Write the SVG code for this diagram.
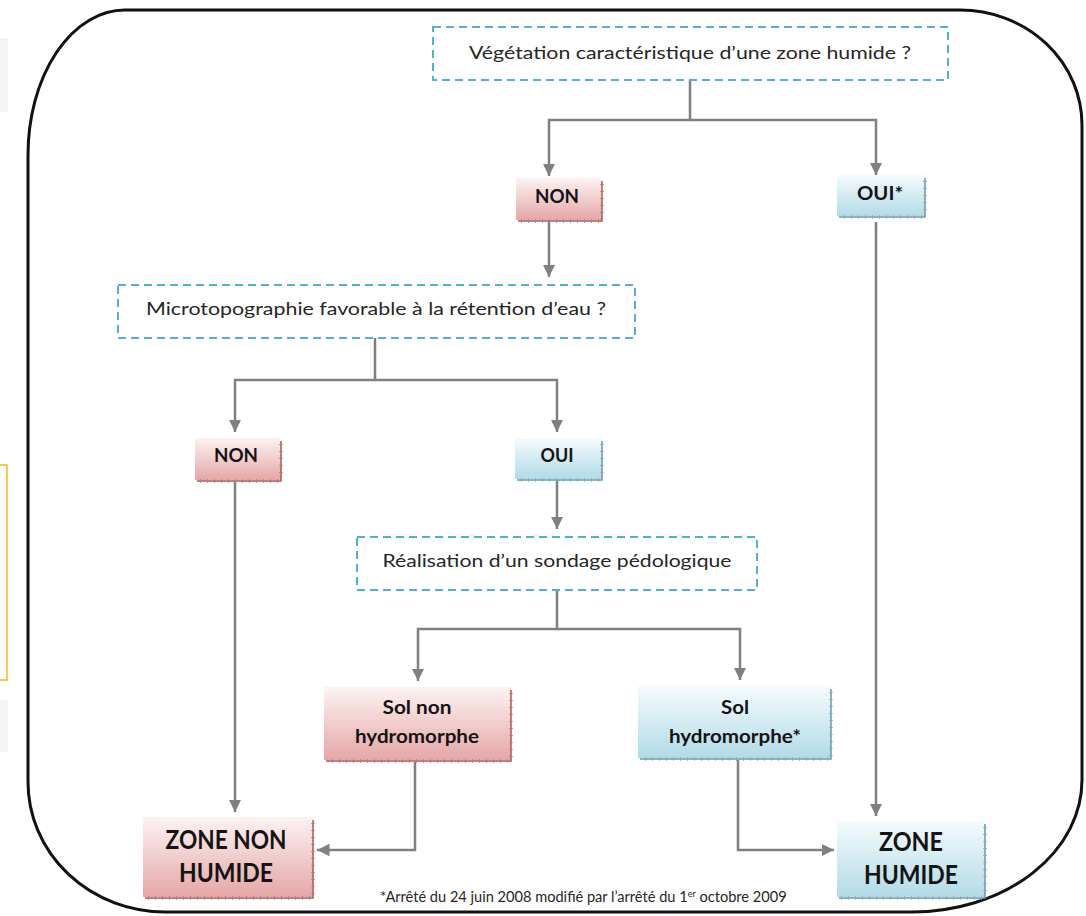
<svg xmlns="http://www.w3.org/2000/svg" width="1086" height="916" viewBox="0 0 1086 916">
<style>
.q{fill:#fff;stroke:#4DB4CE;stroke-width:2;stroke-dasharray:8 5}
.qt{font-family:Lato,"Liberation Sans",sans-serif;font-size:18px;fill:#262626;text-anchor:middle}
.bt{font-family:Lato,"Liberation Sans",sans-serif;font-weight:bold;fill:#141414;text-anchor:middle}
.s17{font-size:18px}
.s19{font-size:19px}
.s26{font-size:26px}
.edR{fill:none;stroke:#A55A5A;stroke-width:1.5}
.tkR{fill:none;stroke:#B87878;stroke-width:3.5;stroke-dasharray:1 6}
.edB{fill:none;stroke:#6E98A8;stroke-width:1.5}
.tkB{fill:none;stroke:#86AAB8;stroke-width:3.5;stroke-dasharray:1 6}
.cn{fill:none;stroke:#808080;stroke-width:2.5}
.ft{font-family:Lato,"Liberation Sans",sans-serif;font-size:14.6px;fill:#262626}
</style>
<defs>
<linearGradient id="gR" x1="0" y1="0" x2="0" y2="1"><stop offset="0" stop-color="#FDF3F3"/><stop offset="1" stop-color="#E5A6A6"/></linearGradient>
<linearGradient id="gB" x1="0" y1="0" x2="0" y2="1"><stop offset="0" stop-color="#F5FBFD"/><stop offset="1" stop-color="#B2DBE7"/></linearGradient>
<marker id="ar" viewBox="0 0 10 10" refX="10" refY="5" markerWidth="5" markerHeight="5" orient="auto" markerUnits="strokeWidth"><path d="M0 0 L10 5 L0 10 Z" fill="#808080"/></marker>
</defs>
<rect width="1086" height="916" fill="#fff"/>
<g id="edge-artifacts">
<rect x="-2" y="38" width="10" height="74" fill="#F4F5F7"/>
<rect x="-5" y="465" width="12" height="215" fill="none" stroke="#F5BB1A" stroke-width="1.5"/>
<rect x="-2" y="700" width="10" height="52" fill="#F4F5F7"/>
</g>
<path id="frame" d="M125 10 H960 A122 115 0 0 1 1082 125 V780 A170 132 0 0 1 912 912 H165 A137 130 0 0 1 28 782 V155 A97 145 0 0 1 125 10 Z" fill="none" stroke="#111" stroke-width="3"/>
<g id="connectors">
<path class="cn" d="M690 80 V120 H549 V176" marker-end="url(#ar)"/>
<path class="cn" d="M690 120 H876 V175" marker-end="url(#ar)"/>
<path class="cn" d="M549 221 V277" marker-end="url(#ar)"/>
<path class="cn" d="M375 338 V380 H235 V432" marker-end="url(#ar)"/>
<path class="cn" d="M375 380 H557 V432" marker-end="url(#ar)"/>
<path class="cn" d="M557 480 V529" marker-end="url(#ar)"/>
<path class="cn" d="M557 590 V629 H418 V681" marker-end="url(#ar)"/>
<path class="cn" d="M557 629 H740 V680" marker-end="url(#ar)"/>
<path class="cn" d="M235 482 V812" marker-end="url(#ar)"/>
<path class="cn" d="M876 222 V816" marker-end="url(#ar)"/>
<path class="cn" d="M415 762 V850 H317" marker-end="url(#ar)"/>
<path class="cn" d="M738 760 V850 H834" marker-end="url(#ar)"/>
</g>
<g id="q1">
<rect class="q" x="433" y="27" width="515" height="53"/>
<text class="qt" x="690" y="59" textLength="442" lengthAdjust="spacingAndGlyphs">Végétation caractéristique d’une zone humide ?</text>
</g>
<g id="non1">
<rect x="516" y="178" width="86" height="42" fill="url(#gR)"/>
<path class="edR" d="M602 181 V221 H518"/><path class="tkR" d="M602 184 V219 M599 221 H520"/>
<text class="bt s17" x="557" y="203" textLength="44" lengthAdjust="spacingAndGlyphs">NON</text>
</g>
<g id="oui1">
<rect x="837" y="175" width="88" height="41" fill="url(#gB)"/>
<path class="edB" d="M925 178 V217 H839"/><path class="tkB" d="M925 181 V215 M922 217 H841"/>
<text class="bt s17" x="880" y="200" textLength="46" lengthAdjust="spacingAndGlyphs">OUI*</text>
</g>
<g id="q2">
<rect class="q" x="118" y="285" width="517" height="53"/>
<text class="qt" x="376" y="315" textLength="460" lengthAdjust="spacingAndGlyphs">Microtopographie favorable à la rétention d’eau ?</text>
</g>
<g id="non2">
<rect x="195" y="438" width="86" height="42" fill="url(#gR)"/>
<path class="edR" d="M281 441 V481 H197"/><path class="tkR" d="M281 444 V479 M278 481 H199"/>
<text class="bt s17" x="236" y="462" textLength="44" lengthAdjust="spacingAndGlyphs">NON</text>
</g>
<g id="oui2">
<rect x="515" y="438" width="87" height="41" fill="url(#gB)"/>
<path class="edB" d="M602 441 V480 H517"/><path class="tkB" d="M602 444 V478 M599 480 H519"/>
<text class="bt s17" x="557" y="462" textLength="33" lengthAdjust="spacingAndGlyphs">OUI</text>
</g>
<g id="q3">
<rect class="q" x="357" y="537" width="400" height="53"/>
<text class="qt" x="557" y="567" textLength="349" lengthAdjust="spacingAndGlyphs">Réalisation d’un sondage pédologique</text>
</g>
<g id="sol-non">
<rect x="324" y="687" width="187" height="73" fill="url(#gR)"/>
<path class="edR" d="M511 690 V761 H326"/><path class="tkR" d="M511 693 V759 M508 761 H328"/>
<text class="bt s19" x="417" y="714" textLength="69" lengthAdjust="spacingAndGlyphs">Sol non</text>
<text class="bt s19" x="417" y="743" textLength="124" lengthAdjust="spacingAndGlyphs">hydromorphe</text>
</g>
<g id="sol-hydro">
<rect x="638" y="686" width="193" height="72" fill="url(#gB)"/>
<path class="edB" d="M831 689 V759 H640"/><path class="tkB" d="M831 692 V757 M828 759 H642"/>
<text class="bt s19" x="735" y="714" textLength="28" lengthAdjust="spacingAndGlyphs">Sol</text>
<text class="bt s19" x="735" y="743" textLength="132" lengthAdjust="spacingAndGlyphs">hydromorphe*</text>
</g>
<g id="zone-non-humide">
<rect x="143" y="817" width="170" height="80" fill="url(#gR)"/>
<path class="edR" d="M313 820 V898 H145"/><path class="tkR" d="M313 823 V896 M310 898 H147"/>
<text class="bt s26" x="226" y="849" textLength="121" lengthAdjust="spacingAndGlyphs">ZONE NON</text>
<text class="bt s26" x="226" y="882" textLength="94" lengthAdjust="spacingAndGlyphs">HUMIDE</text>
</g>
<g id="zone-humide">
<rect x="837" y="821" width="148" height="76" fill="url(#gB)"/>
<path class="edB" d="M985 824 V898 H839"/><path class="tkB" d="M985 827 V896 M982 898 H841"/>
<text class="bt s26" x="911" y="851" textLength="64" lengthAdjust="spacingAndGlyphs">ZONE</text>
<text class="bt s26" x="911" y="884" textLength="94" lengthAdjust="spacingAndGlyphs">HUMIDE</text>
</g>
<text id="footnote" class="ft" x="380" y="902">*Arrêté du 24 juin 2008 modifié par l’arrêté du 1<tspan baseline-shift="super" font-size="9">er</tspan> octobre 2009</text>
</svg>
